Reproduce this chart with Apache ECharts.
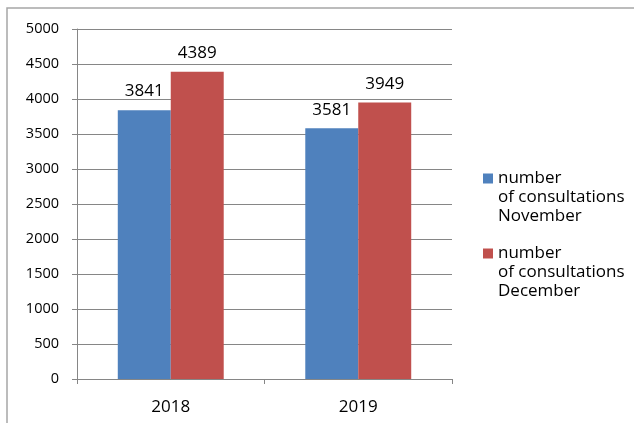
<!DOCTYPE html>
<html>
<head>
<meta charset="utf-8">
<script src="https://cdn.jsdelivr.net/npm/echarts@6/dist/echarts.min.js"></script>
<style>
  html, body { margin: 0; padding: 0; background: #fff; }
  #chart { width: 634px; height: 423px; }
</style>
</head>
<body>
<div id="chart"></div>
<script>
// Consultations per year, November vs December
const years = ['2018', '2019'];
const novemberValues = [3841, 3581];
const decemberValues = [4389, 3949];
const seriesNames = [
  'number\nof consultations\nNovember',
  'number\nof consultations\nDecember'
];
const yTicks = { min: 0, max: 5000, interval: 500 };

const FONT = '"Open Sans", sans-serif';
const AXIS_GRAY = '#868686';
const LINE_H = 19;

const chart = echarts.init(document.getElementById('chart'));

// One legend per series so the swatch sits beside the first line of its label:
// two blank lines are prepended so the (vertically centred) text block puts
// the first real line level with the swatch.
function legendFor(name, top) {
  return {
    orient: 'vertical',
    left: 483,
    top: top,
    padding: 0,
    itemWidth: 10,
    itemHeight: 10,
    itemGap: 0,
    icon: 'rect',
    data: [name],
    selectedMode: false,
    formatter: n => '\n\n' + n,
    textStyle: {
      fontFamily: FONT,
      fontSize: 17,
      color: '#000',
      lineHeight: LINE_H
    }
  };
}

const barLabel = { show: true, position: 'top', distance: 10, color: '#000', fontSize: 17, fontFamily: FONT };

chart.setOption({
  animation: false,
  textStyle: { fontFamily: FONT },
  graphic: [{
    type: 'rect',
    shape: { x: 7, y: 8, width: 700, height: 500 },
    style: { fill: 'none', stroke: '#a6a6a6', lineWidth: 1.5 },
    silent: true,
    z: -10
  }],
  grid: { left: 77, right: 182, top: 29, bottom: 44 },
  legend: [
    legendFor(seriesNames[0], 131),
    legendFor(seriesNames[1], 206)
  ],
  xAxis: {
    type: 'category',
    data: years,
    boundaryGap: true,
    axisLine: { show: true, lineStyle: { color: AXIS_GRAY, width: 1 } },
    axisTick: { show: true, inside: false, length: 5, lineStyle: { color: AXIS_GRAY } },
    axisLabel: { color: '#000', fontSize: 17, margin: 20, fontFamily: FONT },
    splitLine: { show: false }
  },
  yAxis: {
    type: 'value',
    min: yTicks.min,
    max: yTicks.max,
    interval: yTicks.interval,
    axisLine: { show: true, lineStyle: { color: AXIS_GRAY, width: 1 } },
    axisTick: { show: true, inside: false, length: 5, lineStyle: { color: AXIS_GRAY } },
    axisLabel: { color: '#000', fontSize: 14.5, margin: 18, fontFamily: FONT, formatter: v => String(v) },
    splitLine: { show: true, lineStyle: { color: AXIS_GRAY, width: 1 } }
  },
  series: [
    {
      name: seriesNames[0],
      type: 'bar',
      data: novemberValues,
      barGap: '0%',
      barCategoryGap: '43.5%',
      itemStyle: { color: '#4F81BD' },
      label: barLabel
    },
    {
      name: seriesNames[1],
      type: 'bar',
      data: decemberValues,
      barGap: '0%',
      barCategoryGap: '43.5%',
      itemStyle: { color: '#C0504D' },
      label: barLabel
    }
  ]
});
</script>
</body>
</html>
